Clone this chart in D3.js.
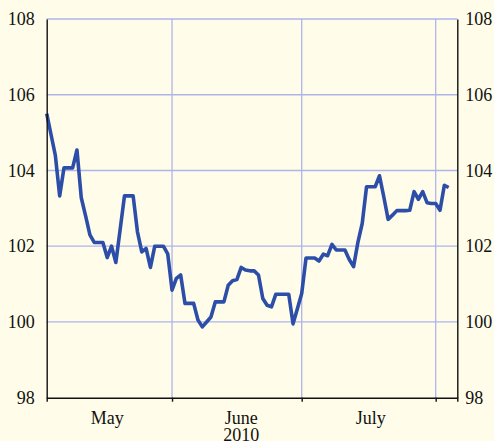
<!DOCTYPE html>
<html>
<head>
<meta charset="utf-8">
<script src="https://cdn.jsdelivr.net/npm/d3@7"></script>
<style>
  body { margin: 0; background: #fffde9; }
  svg { display: block; }
  text { font-family: "Liberation Serif", "DejaVu Serif", serif; fill: #111; }
</style>
</head>
<body>
<svg id="vis" width="494" height="441"></svg>
<script>
const svg = d3.select("#vis");

const BG = '#fffde9';
const GRID = '#afb3ec';
const LINE = '#2d4ea8';

// first day of the series, one value per calendar day after that (weekends carry the friday value)
const START_DATE = new Date(2010, 4, 3);
const END_DATE = new Date(2010, 7, 6);
const values = [
  105.5, 104.95, 104.4, 103.33, 104.07, 104.07, 104.07,
  104.54, 103.28, 102.8, 102.3, 102.1, 102.1, 102.1,
  101.7, 102.0, 101.57, 102.45, 103.33, 103.33, 103.33,
  102.38, 101.85, 101.94, 101.44, 102.0, 102.0, 102.0,
  101.8, 100.84, 101.15, 101.24, 100.49, 100.49, 100.49,
  100.05, 99.87, 100.0, 100.13, 100.53, 100.53, 100.53,
  100.97, 101.09, 101.12, 101.44, 101.37, 101.35, 101.35,
  101.24, 100.62, 100.44, 100.40, 100.73, 100.73, 100.73,
  100.73, 99.95, 100.35, 100.75, 101.69, 101.69, 101.69,
  101.61, 101.79, 101.75, 102.05, 101.9, 101.9, 101.9,
  101.65, 101.46, 102.1, 102.6, 103.57, 103.57, 103.57,
  103.86, 103.3, 102.71, 102.82, 102.94, 102.94, 102.94,
  102.95, 103.44, 103.24, 103.44, 103.15, 103.13, 103.13,
  102.95, 103.61, 103.55
];

const yTicks = [98, 100, 102, 104, 106, 108];
const monthStarts = [new Date(2010, 5, 1), new Date(2010, 6, 1), new Date(2010, 7, 1)];
const monthLabels = ['May', 'June', 'July'];
const monthLabelDates = [new Date(2010, 4, 17), new Date(2010, 5, 17), new Date(2010, 6, 17)];
const yearLabel = '2010';

const plotLeft = 46.7, plotRight = 457.3, plotTop = 19, plotBottom = 397.7;

const x = d3.scaleTime().domain([START_DATE, END_DATE]).range([plotLeft, plotRight]);
const y = d3.scaleLinear().domain([98, 108]).range([plotBottom, plotTop]);

function main() {
  svg.append("rect").attr("width", 494).attr("height", 441).attr("fill", BG);
  drawGrid();
  drawLine();
  drawAxes();
}

function drawGrid() {
  svg.selectAll(".hgrid").data(yTicks.filter(d => d > 98)).join("line")
    .attr("class", "hgrid")
    .attr("x1", plotLeft).attr("x2", plotRight)
    .attr("y1", d => y(d)).attr("y2", d => y(d))
    .attr("stroke", GRID).attr("stroke-width", 1.3);

  svg.selectAll(".vgrid").data(monthStarts).join("line")
    .attr("class", "vgrid")
    .attr("x1", d => x(d)).attr("x2", d => x(d))
    .attr("y1", plotTop).attr("y2", plotBottom)
    .attr("stroke", GRID).attr("stroke-width", 1.3);
}

function drawLine() {
  const pointData = values.map((v, i) => ({date: d3.timeDay.offset(START_DATE, i), value: v}));
  const line = d3.line().x(d => x(d.date)).y(d => y(d.value));
  svg.append("path")
    .datum(pointData)
    .attr("d", line)
    .attr("fill", "none")
    .attr("stroke", LINE)
    .attr("stroke-width", 3.6)
    .attr("stroke-linejoin", "round");
}

function drawAxes() {
  const yLeft = d3.axisLeft(y).tickValues(yTicks).tickSize(0).tickPadding(12).tickFormat(d3.format("d"));
  const yRight = d3.axisRight(y).tickValues(yTicks).tickSize(0).tickPadding(8).tickFormat(d3.format("d"));
  const xAxis = d3.axisBottom(x).tickValues(monthStarts).tickSize(4).tickFormat("");

  const gl = svg.append("g").attr("transform", `translate(${plotLeft},0)`).call(yLeft);
  const gr = svg.append("g").attr("transform", `translate(${plotRight},0)`).call(yRight);
  const gx = svg.append("g").attr("transform", `translate(0,${plotBottom})`).call(xAxis);

  [gl, gr, gx].forEach(g => {
    g.select(".domain").attr("stroke", "#111").attr("stroke-width", 1.4);
    g.selectAll(".tick line").attr("stroke", "#111").attr("stroke-width", 1.4);
    g.selectAll("text").attr("font-family", "Liberation Serif, serif").attr("font-size", 18).attr("fill", "#111");
  });

  svg.selectAll(".month").data(monthLabelDates).join("text")
    .attr("class", "month")
    .attr("x", d => x(d))
    .attr("y", 424)
    .attr("text-anchor", "middle")
    .attr("font-size", 18)
    .text((_, i) => monthLabels[i]);

  svg.append("text")
    .attr("x", x(monthLabelDates[1]))
    .attr("y", 441)
    .attr("text-anchor", "middle")
    .attr("font-size", 18)
    .text(yearLabel);
}

main();
</script>
</body>
</html>
